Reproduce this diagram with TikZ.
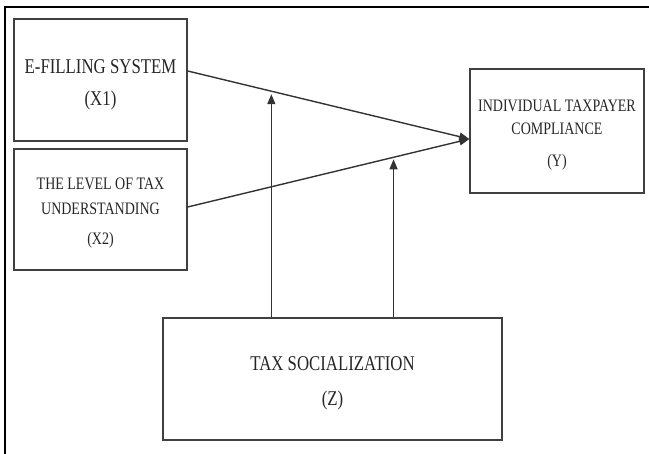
\documentclass[tikz,border=0pt]{standalone}
\usepackage{fontspec}
\setmainfont{Liberation Serif}
\newfontfamily\boxfont[FakeStretch=0.8]{Liberation Serif}
\usetikzlibrary{arrows.meta,calc}
\begin{document}
\begin{tikzpicture}[x=1pt,y=-1pt,
  box/.style={draw=black!75, line width=1.4pt, rectangle, inner sep=0pt},
  txt/.style={inner sep=0pt, align=center, text=black!85},
  big/.style={font=\boxfont\fontsize{21}{25}\selectfont},
  small/.style={font=\boxfont\fontsize{17.5}{21}\selectfont},
  link/.style={draw=black!80, line width=1.4pt},
  arr/.style={link, -{Triangle[length=10pt,width=8pt]}}]
\useasboundingbox (0,0) rectangle (649,454);
\fill[white] (0,0) rectangle (649,454);
\draw[line width=2.5pt] (5,454) -- (5,7) -- (649,7);
\node[box,minimum width=173pt,minimum height=122pt] (x1) at (100.5,80) {};
\node[box,minimum width=173pt,minimum height=121pt] (x2) at (100.5,209.5) {};
\node[box,minimum width=174pt,minimum height=124pt] (y) at (557,131) {};
\node[box,minimum width=339pt,minimum height=122pt] (z) at (332.5,379) {};
\node[txt,big] (x1t) at ([yshift=-4.5pt]x1.center) {E-FILLING SYSTEM\\[7pt](X1)};
\node[txt,small] (x2t) at ([yshift=-4pt]x2.center) {THE LEVEL OF TAX\\[4pt]UNDERSTANDING\\[9pt](X2)};
\node[txt,small] (yt) at ([yshift=-4pt]y.center) {INDIVIDUAL TAXPAYER\\[2pt]COMPLIANCE\\[11pt](Y)};
\node[txt,big] (zt) at ([yshift=-4.5pt]z.center) {TAX SOCIALIZATION\\[10pt](Z)};
\coordinate (s1) at ([yshift=9pt]x1.east);
\coordinate (s2) at ([yshift=2.5pt]x2.east);
\coordinate (t) at ([yshift=-8pt]y.west);
\draw[arr] (s1) -- (t);
\draw[arr] (s2) -- (t);
\coordinate (m1) at ($(s1)!0.297!(t)$);
\coordinate (m2) at ($(s2)!0.731!(t)$);
\draw[arr, shorten >=3pt] (z.north -| m1) -- (m1);
\draw[arr, shorten >=2pt] (z.north -| m2) -- (m2);
\end{tikzpicture}
\end{document}
